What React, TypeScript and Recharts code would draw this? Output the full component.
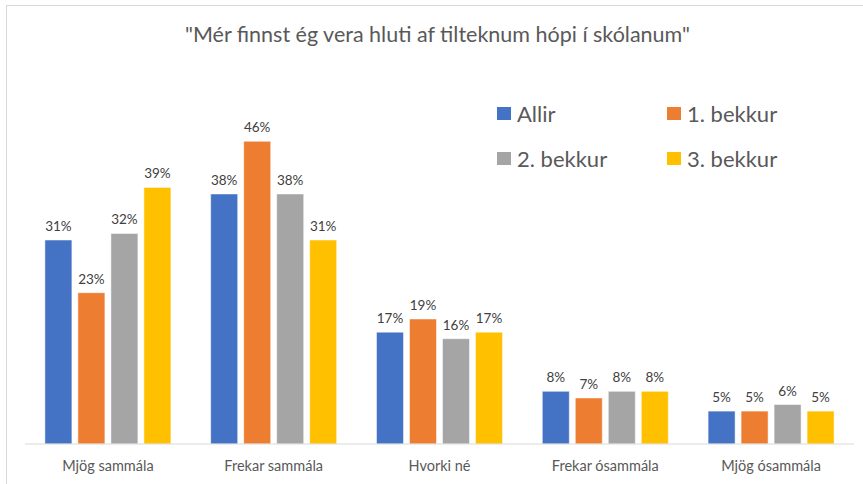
import React from "react";
import { Bar, BarChart, LabelList, XAxis, YAxis } from "recharts";

const categories = ["Mjög sammála", "Frekar sammála", "Hvorki né", "Frekar ósammála", "Mjög ósammála"];
const allir = [0.31, 0.38, 0.17, 0.08, 0.05];
const bekkur1 = [0.23, 0.46, 0.19, 0.07, 0.05];
const bekkur2 = [0.32, 0.38, 0.16, 0.08, 0.06];
const bekkur3 = [0.39, 0.31, 0.17, 0.08, 0.05];

const series = [
  { key: "allir", name: "Allir", color: "#4472C4" },
  { key: "b1", name: "1. bekkur", color: "#ED7D31" },
  { key: "b2", name: "2. bekkur", color: "#A5A5A5" },
  { key: "b3", name: "3. bekkur", color: "#FFC000" },
];

const data = categories.map((cat, i) => ({
  cat,
  allir: allir[i],
  b1: bekkur1[i],
  b2: bekkur2[i],
  b3: bekkur3[i],
}));

const font = "Lato, 'Open Sans', sans-serif";
const pct = (v: any) => `${Math.round(Number(v) * 100)}%`;

// legend drawn as an overlay so it doesn't shrink the plot area
function LegendBox() {
  return (
    <div
      style={{
        position: "absolute",
        left: 497,
        top: 100,
        display: "grid",
        gridTemplateColumns: "170px 170px",
        rowGap: 19,
        fontFamily: font,
        fontSize: 22,
        color: "#595959",
      }}
    >
      {series.map((s) => (
        <div key={s.key} style={{ display: "flex", alignItems: "center", height: 26 }}>
          <span style={{ width: 14, height: 13, background: s.color, marginRight: 6, display: "inline-block" }} />
          <span>{s.name}</span>
        </div>
      ))}
    </div>
  );
}

export default function App() {
  return (
    <div style={{ position: "fixed", left: 0, top: 0, width: 863, height: 484, background: "#fff", overflow: "hidden" }}>
      <div style={{ position: "absolute", left: 6, top: 5, width: 870, height: 490, border: "1px solid #d9d9d9" }} />
      <div style={{ position: "absolute", left: 6, top: 21, width: 863, textAlign: "center", fontFamily: font, fontSize: 21.5, color: "#595959" }}>
        "Mér finnst ég vera hluti af tilteknum hópi í skólanum"
      </div>
      <BarChart
        width={863}
        height={484}
        data={data}
        margin={{ top: 115, right: 9, left: 25, bottom: 0 }}
        barCategoryGap="12%"
        barGap={6}
        style={{ position: "absolute", left: 0, top: 0 }}
      >
        <XAxis
          dataKey="cat"
          height={40}
          axisLine={{ stroke: "#d9d9d9" }}
          tickLine={false}
          tick={{ fill: "#595959", fontSize: 14.5, fontFamily: font }}
          dy={9}
        />
        <YAxis hide domain={[0, 0.5]} />
        {series.map((s) => (
          <Bar key={s.key} dataKey={s.key} name={s.name} fill={s.color} stroke="#fff" strokeWidth={0.5} isAnimationActive={false}>
            <LabelList dataKey={s.key} position="top" offset={9} formatter={pct} fill="#404040" fontSize={13.5} fontFamily={font} />
          </Bar>
        ))}
      </BarChart>
      <LegendBox />
    </div>
  );
}
